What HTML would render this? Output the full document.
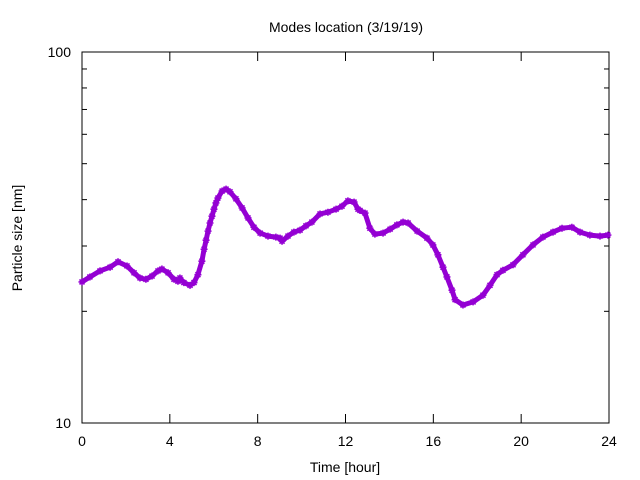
<!DOCTYPE html>
<html><head><meta charset="utf-8"><style>
body{margin:0;background:#fff}
svg{display:block;font-family:"Liberation Sans","DejaVu Sans",sans-serif}
</style></head><body>
<svg id="c" width="640" height="480">
<text x="346" y="32" font-size="14" text-anchor="middle">Modes location (3/19/19)</text>
<text x="345" y="472" font-size="14" text-anchor="middle">Time [hour]</text>
<text transform="translate(22,238) rotate(-90)" font-size="14" text-anchor="middle">Particle size [nm]</text>
<g id="axes"></g><g id="series"></g>
</svg>
<script>
const hours=[0,.36,.82,1.28,1.64,2.05,2.37,2.64,2.91,3.19,3.46,3.64,3.92,4.19,4.37,4.46,4.64,4.92,5.10,5.28,5.46,5.56,5.65,5.74,5.83,5.92,6.01,6.10,6.19,6.38,6.56,6.74,7.01,7.29,7.56,7.83,8.11,8.47,8.83,9.02,9.11,9.38,9.65,9.93,10.20,10.47,10.84,11.20,11.57,11.84,12.11,12.39,12.57,12.66,12.89,13.11,13.34,13.71,14.03,14.34,14.62,14.85,15.26,15.71,15.98,16.21,16.44,16.62,16.85,16.99,17.35,17.81,18.26,18.58,18.90,19.17,19.63,20.08,20.54,20.99,21.45,21.86,22.31,22.68,23.13,23.59,23.95];
const sizes=[24.0,24.75,25.7,26.3,27.2,26.5,25.4,24.6,24.4,24.9,25.7,26.0,25.4,24.4,24.1,24.6,23.9,23.5,23.9,25.1,27.3,29.4,31.1,32.9,34.6,36.1,37.7,39.2,40.4,42.2,42.7,42.0,40.2,38.0,35.7,33.7,32.5,31.9,31.7,31.5,30.9,31.9,32.7,33.1,34.0,34.8,36.6,37.0,37.7,38.4,39.7,39.4,37.7,37.4,36.8,33.5,32.3,32.5,33.3,34.2,34.8,34.6,32.9,31.5,30.2,28.4,26.3,24.75,22.8,21.5,20.8,21.2,22.1,23.5,25.1,25.8,26.7,28.4,30.2,31.7,32.7,33.5,33.7,32.7,32.1,31.9,32.1];
const xTicks=[0,4,8,12,16,20,24];
const yMajor=[10,100];
const yMinor=[20,30,40,50,60,70,80,90];
const NS="http://www.w3.org/2000/svg";
const L=82,R=609,T=52,B=423;
const X=h=>L+(h-0)/24*(R-L);
const Y=v=>B-(Math.log10(v)-1)*(B-T);
function mk(tag,attrs,parent){const e=document.createElementNS(NS,tag);for(const k in attrs)e.setAttribute(k,attrs[k]);parent.appendChild(e);return e;}
const ax=document.getElementById('axes');
const fr=mk('rect',{x:L,y:T,width:R-L,height:B-T,fill:'none',stroke:'#000','stroke-width':1},ax);


xTicks.forEach(t=>{const x=X(t);
 mk('line',{x1:x,y1:B,x2:x,y2:B-9,stroke:'#000'},ax);
 mk('line',{x1:x,y1:T,x2:x,y2:T+9,stroke:'#000'},ax);
 const tx=mk('text',{x:x,y:446,'font-size':14,'text-anchor':'middle'},ax);tx.textContent=t;
 
 
});
yMajor.forEach(t=>{const y=Y(t);
 mk('line',{x1:L,y1:y,x2:L+9,y2:y,stroke:'#000'},ax);
 mk('line',{x1:R,y1:y,x2:R-9,y2:y,stroke:'#000'},ax);
 const tx=mk('text',{x:71,y:y+5,'font-size':14,'text-anchor':'end'},ax);tx.textContent=t;
 
 
});
yMinor.forEach(t=>{const y=Y(t);
 mk('line',{x1:L,y1:y,x2:L+5,y2:y,stroke:'#000'},ax);
 mk('line',{x1:R,y1:y,x2:R-5,y2:y,stroke:'#000'},ax);
});
const sg=document.getElementById('series');
const col='#9400d3';
const pts=hours.map((h,i)=>X(h).toFixed(1)+','+Y(sizes[i]).toFixed(1)).join(' ');
const pl=mk('polyline',{points:pts,fill:'none',stroke:col,'stroke-width':5,'stroke-linejoin':'round'},sg);


hours.forEach((h,i)=>{const x=X(h),y=Y(sizes[i]);
 const p=mk('path',{d:`M${x-3.5},${y}h7M${x},${y-3.5}v7M${x-2.5},${y-2.5}l5,5M${x+2.5},${y-2.5}l-5,5`,stroke:col,'stroke-width':1.6},sg);
 
 
});
</script>
</body></html>
